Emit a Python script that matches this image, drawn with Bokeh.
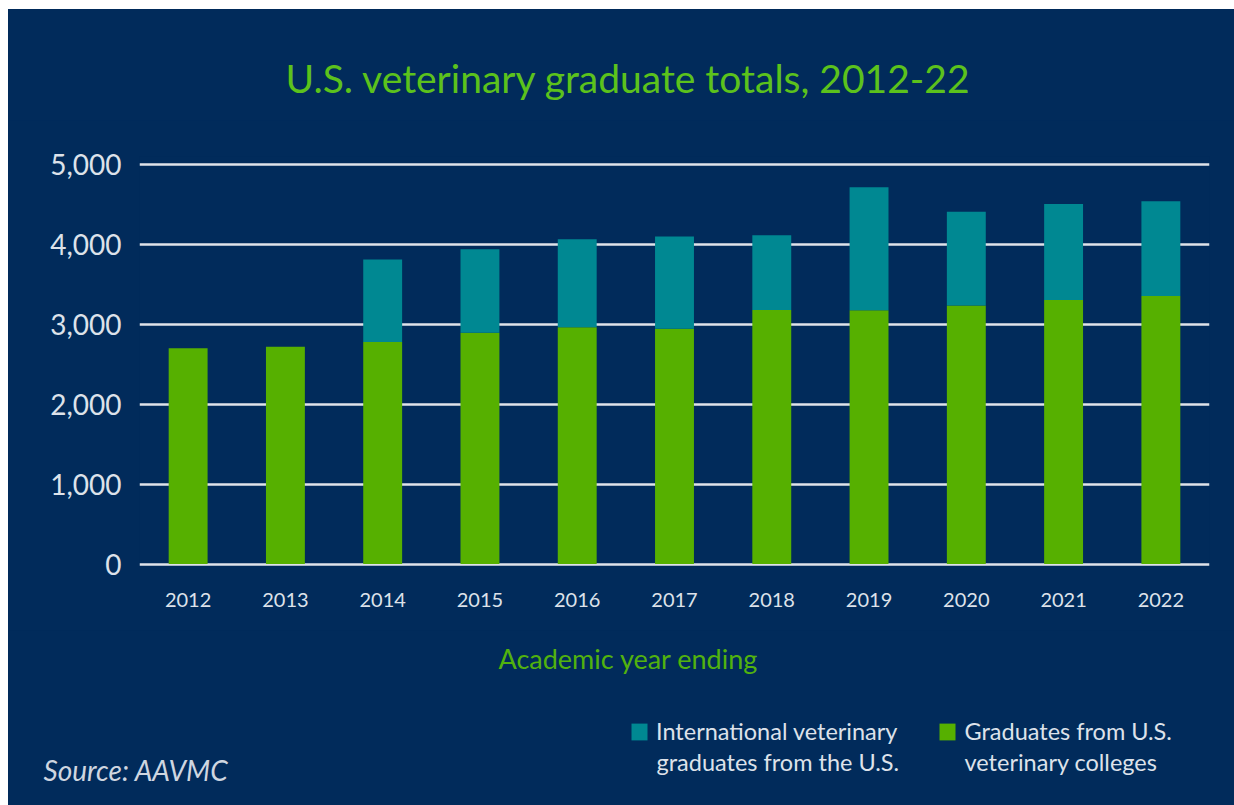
from bokeh.plotting import figure
from bokeh.layouts import column
from bokeh.models import (Range1d, FactorRange, Label, Legend, LegendItem, NumeralTickFormatter,
                          FixedTicker, ColumnDataSource)
from bokeh.embed import file_html
from bokeh.resources import INLINE

years = ["2012", "2013", "2014", "2015", "2016", "2017", "2018", "2019", "2020", "2021", "2022"]
us_grads = [2700, 2720, 2780, 2895, 2965, 2945, 3180, 3175, 3235, 3305, 3355]
intl_grads = [0, 0, 1030, 1045, 1100, 1155, 935, 1540, 1175, 1200, 1185]
y_ticks = [0, 1000, 2000, 3000, 4000, 5000]

title_text = "U.S. veterinary graduate totals, 2012-22"
x_title = "Academic year ending"
source_text = "Source: AAVMC"
legend_intl = ["International veterinary", "graduates from the U.S."]
legend_us = ["Graduates from U.S.", "veterinary colleges"]

NAVY = "#012b5b"
GREEN = "#56b000"
TEAL = "#008892"
TXT = "#dde2ea"
FONT = "Lato"
W = 1226
H_HEAD, H_MAIN, H_FOOT = 111, 510, 175

source = ColumnDataSource(dict(year=years, us=us_grads, intl=intl_grads))


def blank(h):
    f = figure(width=W, height=h, x_range=Range1d(0, W), y_range=Range1d(0, h),
               x_axis_location=None, y_axis_location=None, output_backend="svg",
               toolbar_location=None, min_border=0, frame_align=False)
    f.xgrid.visible = False
    f.ygrid.visible = False
    f.background_fill_color = NAVY
    f.border_fill_color = NAVY
    f.outline_line_color = None
    return f


# header with title
head = blank(H_HEAD)
head.add_layout(Label(x=620, y=43, text=title_text, text_align="center",
                      text_baseline="alphabetic", text_font=FONT,
                      text_font_size="39px", text_color="#5cc21c"))

# main chart
p = figure(width=W, height=H_MAIN, x_range=FactorRange(*years, range_padding=0),
           y_range=Range1d(-30, 5100), output_backend="svg", toolbar_location=None,
           min_border_left=131, min_border_right=25, min_border_top=36, min_border_bottom=64,
           frame_align=False)
p.background_fill_color = NAVY
p.border_fill_color = NAVY
p.outline_line_color = None

rs = p.vbar_stack(["us", "intl"], x="year", width=0.4, source=source,
                  color=[GREEN, TEAL], line_color=None)

p.xgrid.grid_line_color = None
p.ygrid.grid_line_color = "#dfe3ea"
p.ygrid.grid_line_width = 2.5
p.ygrid.ticker = FixedTicker(ticks=y_ticks)

p.yaxis.ticker = FixedTicker(ticks=y_ticks)
p.yaxis.formatter = NumeralTickFormatter(format="0,0")
for ax in (p.xaxis[0], p.yaxis[0]):
    ax.axis_line_color = None
    ax.major_tick_line_color = None
    ax.minor_tick_line_color = None
    ax.major_label_text_color = TXT
    ax.major_label_text_font = FONT
p.yaxis.major_label_text_font_size = "28px"
p.yaxis.major_label_standoff = 12
p.xaxis.major_label_text_font_size = "20px"
p.xaxis.major_label_standoff = 20

# footer with axis title, legend and source
foot = blank(H_FOOT)
foot.add_layout(Label(x=620, y=147, text=x_title, text_align="center",
                      text_baseline="alphabetic", text_font=FONT,
                      text_font_size="27px", text_color="#52b20e"))
foot.add_layout(Label(x=35, y=36, text=source_text, text_align="left",
                      text_baseline="alphabetic", text_font=FONT,
                      text_font_style="italic", text_font_size="28px", text_color="#cfd6e0"))
# legend keys: hidden copies of the two bar series (same data, same colours)
key_intl = foot.vbar(x="year", top="intl", width=0.4, source=source, color=TEAL,
                     line_color=None, visible=False)
key_us = foot.vbar(x="year", top="us", width=0.4, source=source, color=GREEN,
                   line_color=None, visible=False)
legend = Legend(items=[LegendItem(label=legend_intl[0], renderers=[key_intl]),
                       LegendItem(label=legend_us[0], renderers=[key_us])],
                orientation="horizontal", location=(621, 60),
                label_text_font=FONT, label_text_font_size="23.5px", label_text_color=TXT,
                glyph_width=20, glyph_height=21, label_standoff=7, spacing=40,
                padding=0, margin=0, background_fill_alpha=0, border_line_alpha=0,
                inactive_fill_alpha=0)
foot.add_layout(legend, "center")
# second lines of the two legend entries
for lx, txt in ((648, legend_intl[1]), (956, legend_us[1])):
    foot.add_layout(Label(x=lx, y=44, text=txt, text_align="left",
                          text_baseline="alphabetic", text_font=FONT,
                          text_font_size="23.5px", text_color=TXT))

layout = column(head, p, foot, spacing=0, margin=(9, 0, 0, 8),
                styles={"background-color": NAVY})

open("out.html", "w").write(file_html(layout, INLINE))
